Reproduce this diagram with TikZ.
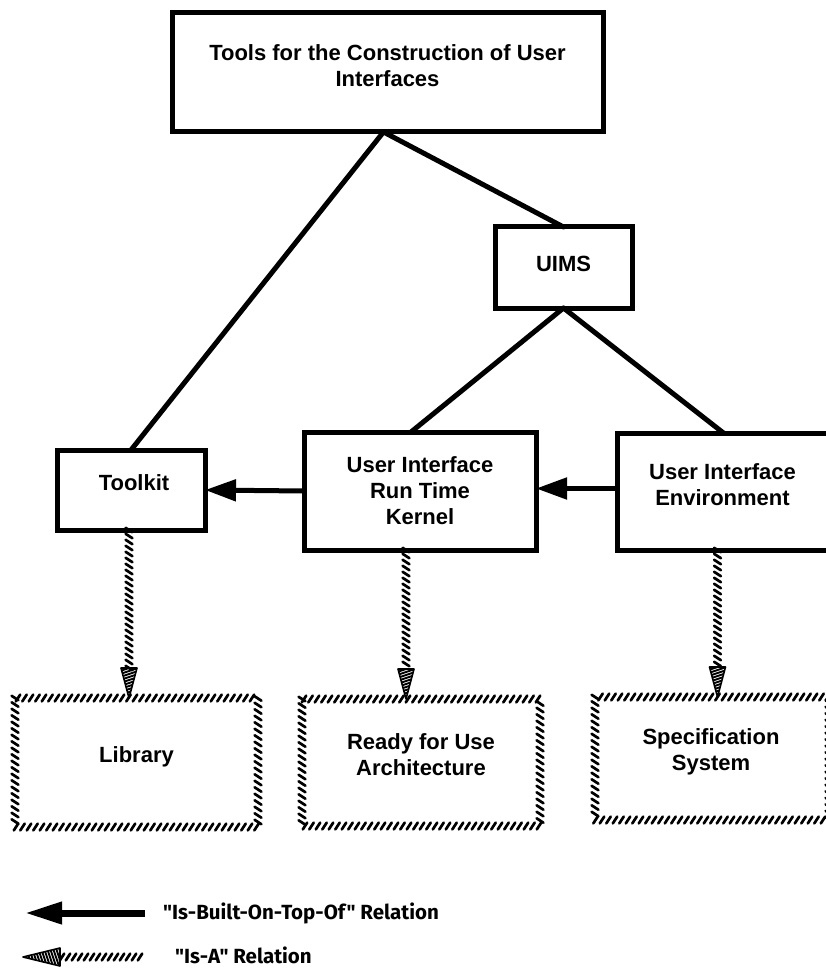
\documentclass[tikz,border=0pt]{standalone}
\usepackage{fontspec}
\setmainfont{Liberation Sans}
\newfontfamily\legfont{Fira Sans}
\usetikzlibrary{arrows.meta,decorations.markings}
\tikzset{
  box/.style={draw, line width=5pt, inner sep=0pt, outer sep=0pt},
  rbox/.style={draw=none, inner sep=0pt, outer sep=0pt},
  lbl/.style={font=\bfseries\fontsize{22}{26}\selectfont, align=center, inner sep=0pt},
  leg/.style={font=\legfont\bfseries\fontsize{20.5}{24}\selectfont, inner sep=0pt},
  conn/.style={line width=5pt, line cap=round},
  built/.style={line width=#1, -{Triangle[length=31pt,width=21pt]}},
  built/.default=5pt,
  ropestroke/.style={line width=2.7pt, line cap=round},
  rope/.style={decoration={markings,
      mark=between positions 0 and 1 step 6.5pt with {\draw[ropestroke] (-2.2pt,-3.4pt) -- (2.2pt,3.4pt);}},
      decorate},
  isa/.style 2 args={decoration={markings,
      mark=between positions 0 and -#1pt step 6pt with {\draw[ropestroke] (-2.2pt,-3.4pt) -- (2.2pt,3.4pt);},
      mark=at position 1 with {
        \begin{scope}
          \clip (0pt,0pt) -- (-#1pt,#2pt) -- (-#1pt,-#2pt) -- cycle;
          \foreach \k in {0,...,20} {\draw[line width=1.9pt] ({-3pt*\k+4pt},-12pt) -- ({-3pt*\k-4pt},12pt);}
        \end{scope}
        \draw[line width=1.6pt, line join=round] (0pt,0pt) -- (-#1pt,#2pt) -- (-#1pt,-#2pt) -- cycle;}},
      decorate}
}
\begin{document}
\begin{tikzpicture}[x=1pt,y=-1pt]
\useasboundingbox (0,0) rectangle (826,968);

% solid boxes
\node[box, minimum width=431pt, minimum height=119pt,
      label={[lbl,yshift=7pt]center:Tools for the Construction of User\\Interfaces}] (top) at (387.5,72.5) {};
\node[box, minimum width=137pt, minimum height=81pt,
      label={[lbl,yshift=4pt]center:UIMS}] (uims) at (563.5,267.5) {};
\node[box, minimum width=148pt, minimum height=80pt,
      label={[lbl,yshift=7pt,xshift=3pt]center:Toolkit}] (tk) at (131,490) {};
\node[box, minimum width=232pt, minimum height=118pt,
      label={[lbl]center:User Interface\\Run Time\\Kernel}] (kern) at (420,491) {};
\node[box, minimum width=213pt, minimum height=117pt,
      label={[lbl,yshift=7pt,xshift=-1pt]center:User Interface\\Environment}] (env) at (723.5,491.5) {};

% rope boxes
\node[rbox, minimum width=243pt, minimum height=129pt,
      label={[lbl,yshift=5.5pt]center:Library}] (lib) at (136.5,762.5) {};
\node[rbox, minimum width=238pt, minimum height=127pt,
      label={[lbl,yshift=7.5pt]center:Ready for Use\\Architecture}] (ready) at (421,762.5) {};
\node[rbox, minimum width=234pt, minimum height=123pt,
      label={[lbl,yshift=6.5pt,xshift=-1pt]center:Specification\\System}] (spec) at (712,758.5) {};
\path[rope] (lib.north west) rectangle (lib.south east);
\path[rope] (ready.north west) rectangle (ready.south east);
\path[rope] (spec.north west) rectangle (spec.south east);

% tree connectors
\coordinate (apex) at ([xshift=-4pt]top.south);
\coordinate (kt) at ([xshift=-9pt]kern.north);
\draw[conn] (apex) -- (tk.north);
\draw[conn] (apex) -- (uims.north);
\draw[conn] (uims.south) -- (kt);
\draw[conn] (uims.south) -- (env.north);

% is-built-on-top-of
\draw[built] (kern.west) -- (tk.east);
\coordinate (ew) at ([yshift=3pt]env.west);
\draw[built] (ew) -- (ew -| kern.east);

% is-a
\coordinate (t1) at ([xshift=-2pt]tk.south);
\coordinate (k1) at ([xshift=-14pt]kern.south);
\coordinate (e1) at ([xshift=-6pt]env.south);
\path[isa={30}{8}] (t1) -- (t1 |- lib.north);
\path[isa={30}{8}] (k1) -- (k1 |- ready.north);
\path[isa={30}{8}] (e1) -- (e1 |- spec.north);

% legend
\coordinate (b1) at (145,913);
\coordinate (b2) at (25,913);
\draw[line width=7pt, -{Triangle[length=37pt,width=21pt]}] (b1) -- (b2);
\node[leg, anchor=west] (btxt) at (163,913) {"Is-Built-On-Top-Of" Relation};
\coordinate (a1) at (140,957);
\coordinate (a2) at (23,957);
\path[isa={37}{9}] (a1) -- (a2);
\node[leg, anchor=west] (atxt) at (175,955) {"Is-A" Relation};
\end{tikzpicture}
\end{document}
